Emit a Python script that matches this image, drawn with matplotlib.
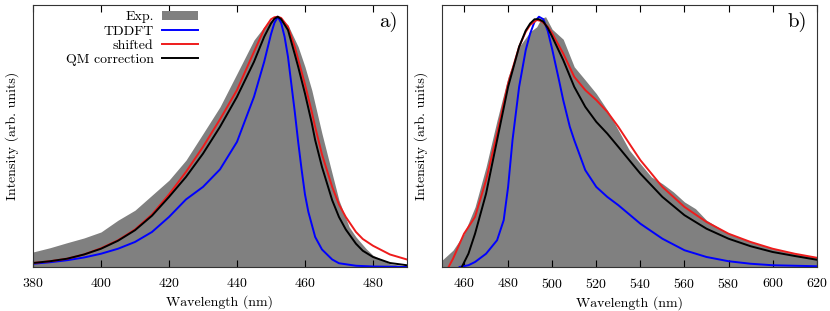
import numpy as np
import matplotlib
matplotlib.use("Agg")
import matplotlib.pyplot as plt

plt.rcParams['font.family'] = 'serif'
plt.rcParams['font.serif'] = ['cmr10', 'DejaVu Serif']
plt.rcParams['axes.formatter.use_mathtext'] = True
plt.rcParams['mathtext.fontset'] = 'cm'

# ---- panel a) ----
a_exp_x = [380, 385, 390, 395, 400, 405, 410, 415, 420, 425, 430, 435, 440, 445, 448, 450, 452,
           455, 458, 460, 462, 465, 468, 470, 473, 475, 478, 480, 485, 490]
a_exp_y = [0.06, 0.077, 0.097, 0.116, 0.14, 0.187, 0.227, 0.287, 0.347, 0.427, 0.533, 0.64, 0.773,
           0.907, 0.96, 0.987, 1.0, 0.967, 0.88, 0.8, 0.707, 0.533, 0.373, 0.267, 0.16, 0.12,
           0.073, 0.047, 0.013, 0.003]

a_qm_x = [380, 385, 390, 395, 400, 405, 410, 415, 420, 425, 430, 435, 440, 445, 448, 450, 451,
          452, 453, 455, 457, 458, 460, 462, 463, 465, 468, 470, 472, 475, 477, 480, 485, 490]
a_qm_y = [0.016, 0.023, 0.033, 0.05, 0.073, 0.105, 0.147, 0.205, 0.28, 0.36, 0.453, 0.56, 0.68,
          0.82, 0.92, 0.973, 0.992, 1.0, 0.99, 0.947, 0.85, 0.8, 0.693, 0.575, 0.507, 0.4, 0.267,
          0.2, 0.15, 0.093, 0.065, 0.04, 0.016, 0.007]

a_sh_x = [380, 385, 390, 395, 400, 405, 410, 415, 420, 425, 430, 435, 440, 445, 448, 450, 451,
          452, 453, 455, 457, 458, 460, 462, 463, 465, 468, 470, 472, 475, 477, 480, 485, 490]
a_sh_y = [0.016, 0.023, 0.033, 0.05, 0.075, 0.107, 0.15, 0.21, 0.29, 0.38, 0.48, 0.59, 0.707,
          0.86, 0.95, 0.99, 0.998, 1.0, 0.995, 0.96, 0.88, 0.83, 0.73, 0.62, 0.56, 0.45, 0.32,
          0.25, 0.2, 0.14, 0.112, 0.085, 0.05, 0.03]

a_td_x = [380, 385, 390, 395, 400, 405, 410, 415, 420, 425, 430, 435, 440, 445, 448, 450, 451,
          452, 453, 454, 455, 456, 457, 458, 459, 460, 461, 462, 463, 465, 468, 470, 475, 480,
          490]
a_td_y = [0.013, 0.019, 0.027, 0.038, 0.053, 0.073, 0.1, 0.14, 0.2, 0.27, 0.32, 0.39, 0.5,
          0.68, 0.82, 0.93, 0.975, 1.0, 0.975, 0.92, 0.84, 0.73, 0.62, 0.5, 0.39, 0.29, 0.22,
          0.17, 0.12, 0.07, 0.03, 0.015, 0.005, 0.002, 0.0]

# ---- panel b) ----
b_exp_x = [450, 455, 460, 465, 470, 475, 480, 485, 490, 493, 495, 497, 500, 505, 510, 515, 520,
           525, 530, 535, 540, 545, 550, 555, 560, 565, 570, 580, 590, 600, 610, 620]
b_exp_y = [0.027, 0.067, 0.133, 0.24, 0.4, 0.587, 0.76, 0.88, 0.94, 0.96, 0.993, 1.0, 0.95, 0.91,
           0.8, 0.747, 0.693, 0.627, 0.547, 0.467, 0.413, 0.36, 0.333, 0.3, 0.26, 0.233, 0.187,
           0.133, 0.1, 0.073, 0.053, 0.04]

b_qm_x = [459, 462, 465, 470, 475, 480, 485, 488, 490, 492, 494, 496, 498, 500, 505, 510, 515,
          520, 525, 530, 540, 550, 560, 570, 580, 590, 600, 610, 620]
b_qm_y = [0.0, 0.053, 0.133, 0.293, 0.507, 0.72, 0.88, 0.945, 0.973, 0.99, 0.99, 0.98, 0.955,
          0.92, 0.827, 0.72, 0.64, 0.58, 0.533, 0.48, 0.373, 0.28, 0.207, 0.153, 0.113, 0.083,
          0.06, 0.044, 0.029]

b_sh_x = [453, 455, 460, 465, 470, 475, 480, 485, 488, 490, 493, 495, 498, 500, 505, 510, 515,
          520, 525, 530, 535, 540, 550, 560, 570, 580, 590, 600, 610, 620]
b_sh_y = [0.0, 0.033, 0.133, 0.2, 0.347, 0.533, 0.733, 0.88, 0.94, 0.967, 0.987, 0.983, 0.96,
          0.933, 0.853, 0.76, 0.707, 0.667, 0.62, 0.56, 0.493, 0.427, 0.32, 0.24, 0.18, 0.133,
          0.1, 0.073, 0.053, 0.037]

b_td_x = [458, 462, 465, 470, 475, 478, 480, 482, 485, 488, 490, 492, 494, 496, 498, 500, 503,
          505, 508, 510, 515, 520, 525, 530, 540, 550, 560, 570, 580, 590, 600, 620]
b_td_y = [0.0, 0.007, 0.02, 0.053, 0.107, 0.187, 0.32, 0.507, 0.72, 0.867, 0.933, 0.98, 1.0,
          0.99, 0.943, 0.87, 0.75, 0.667, 0.56, 0.507, 0.387, 0.32, 0.28, 0.247, 0.173, 0.113,
          0.067, 0.04, 0.023, 0.013, 0.007, 0.003]

fig = plt.figure(figsize=(8.3, 3.11), dpi=100)
ax1 = fig.add_axes([0.0398, 0.1415, 0.4505, 0.8425])
ax2 = fig.add_axes([0.5325, 0.1415, 0.4515, 0.8425])

panels = [
    (ax1, a_exp_x, a_exp_y, a_td_x, a_td_y, a_sh_x, a_sh_y, a_qm_x, a_qm_y, (380, 490),
     range(380, 481, 20), 'a)'),
    (ax2, b_exp_x, b_exp_y, b_td_x, b_td_y, b_sh_x, b_sh_y, b_qm_x, b_qm_y, (450, 620),
     range(460, 621, 20), 'b)'),
]

for ax, ex, ey, tx, ty, sx, sy, qx, qy, xlim, ticks, tag in panels:
    ax.fill_between(ex, 0, ey, color='#808080', lw=0, label='Exp.')
    ax.plot(tx, ty, color='#0000ff', lw=1.4, label='TDDFT')
    ax.plot(sx, sy, color='#ee1c1c', lw=1.4, label='shifted')
    ax.plot(qx, qy, color='black', lw=1.4, label='QM correction')
    ax.set_xlim(*xlim)
    ax.set_ylim(0, 1.047)
    ax.set_xticks(list(ticks))
    ax.set_yticks([])
    ax.tick_params(axis='x', direction='in', top=True, length=5, labelsize=10, pad=7)
    ax.set_xlabel('Wavelength (nm)', fontsize=10)
    ax.set_ylabel('Intensity (arb. units)', fontsize=10, labelpad=10)
    ax.text(0.975, 0.975, tag, transform=ax.transAxes, ha='right', va='top', fontsize=15)
    for sp in ax.spines.values():
        sp.set_linewidth(0.8)
        sp.set_color('#333333')

ax1.legend(loc='upper left', bbox_to_anchor=(0.065, 1.01), frameon=False, markerfirst=False,
           fontsize=10, handlelength=2.6, handletextpad=0.6, labelspacing=0.1,
           borderaxespad=0.2)

fig.savefig('out.png', dpi=100)
